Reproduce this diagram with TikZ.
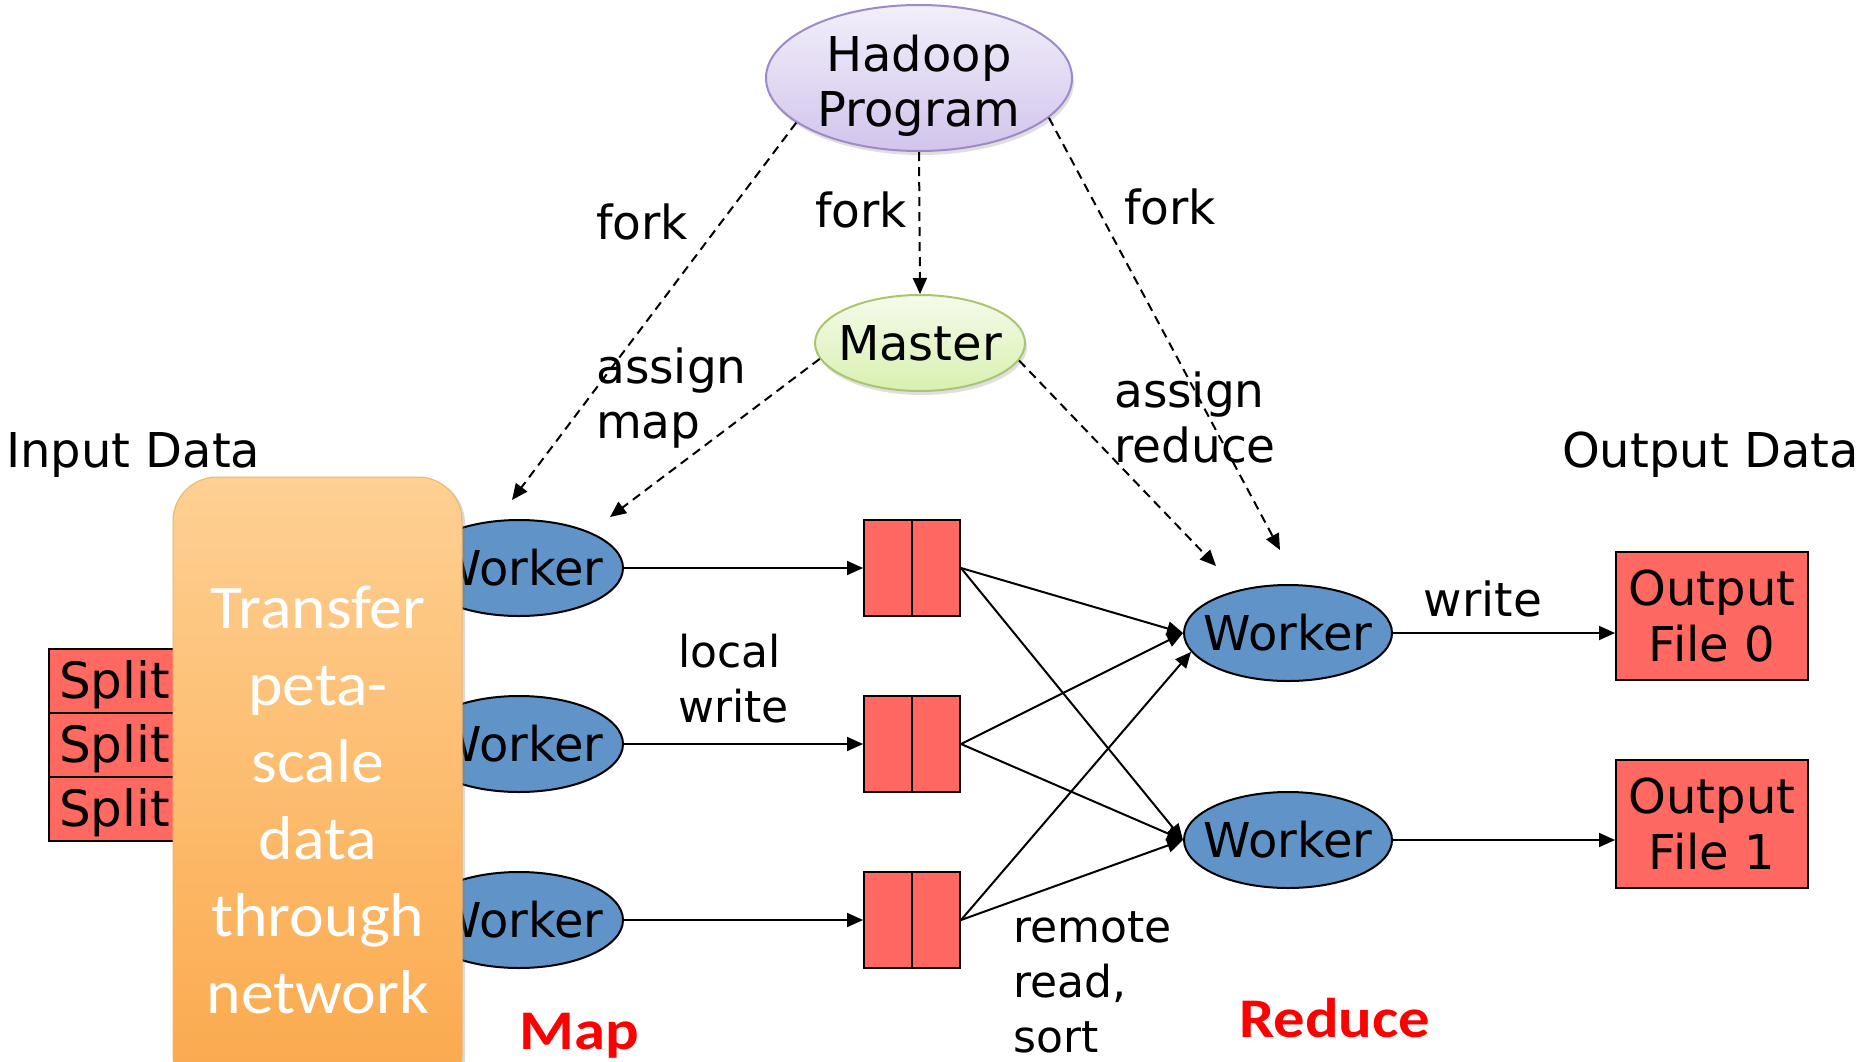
\documentclass[tikz,border=0pt]{standalone}
\usepackage{fontspec}
\setmainfont{DejaVu Sans}
\newfontfamily\calib{Carlito}[FakeStretch=1.06]
\newfontfamily\calibw{Carlito}[FakeStretch=1.12]
\usetikzlibrary{arrows.meta,shapes.geometric,shadows}
\newcommand\zw[1]{\makebox[0pt]{#1}}
\newcommand\fs[2]{\fontsize{#1bp}{#2bp}\selectfont}
\definecolor{wblue}{HTML}{6094C8}
\definecolor{salmon}{HTML}{FF6961}
\definecolor{hadtop}{HTML}{F2EFFA}
\definecolor{hadbot}{HTML}{D2C4EC}
\definecolor{hadline}{HTML}{9E8AC6}
\definecolor{mtop}{HTML}{F5FBEA}
\definecolor{mbot}{HTML}{D8F0B0}
\definecolor{mline}{HTML}{A9C66F}
\definecolor{otop}{HTML}{FED093}
\definecolor{obot}{HTML}{FBA84A}
\definecolor{oline}{HTML}{F2B465}
\begin{document}
\begin{tikzpicture}[x=1bp,y=1bp,
  conn/.style={line width=2bp,-{Triangle[length=16bp,width=14bp]}},
  dconn/.style={conn,dash pattern=on 9bp off 6bp},
  worker/.style={ellipse,draw,line width=2bp,fill=wblue,minimum width=208bp,minimum height=96bp,inner sep=0,font=\fs{48}{56}},
  redbox/.style={rectangle,draw,line width=2bp,fill=salmon,inner sep=0},
  buf/.style={redbox,minimum width=96bp,minimum height=96bp},
  outbox/.style={redbox,minimum width=192bp,minimum height=128bp,align=center,font=\fs{48}{56}},
  splitbox/.style={redbox,minimum width=152bp,minimum height=64bp,anchor=north west},
  lbl/.style={inner sep=0,align=left,font=\fs{47}{55}},
  small/.style={inner sep=0,align=left,font=\fs{44}{55}},
  bigred/.style={inner sep=0,text=red,font=\calibw\bfseries\fs{56}{60}}
]
\useasboundingbox (0,0) rectangle (1876,-1061);
\clip (0,0) rectangle (1876,-1061);

% top ellipses
\node[ellipse,draw=hadline,line width=2bp,top color=hadtop,bottom color=hadbot,
  minimum width=306bp,minimum height=146bp,inner sep=0,
  drop shadow={opacity=0.25,shadow xshift=2bp,shadow yshift=-4bp}] (hadoop) at (919,-78) {};
\node[inner sep=0,align=center,font=\fs{48}{55}] (hadooptxt) at (919,-86) {Hadoop\\Program};
\node[ellipse,draw=mline,line width=2bp,top color=mtop,bottom color=mbot,
  minimum width=210bp,minimum height=96bp,inner sep=0,font=\fs{48}{56},
  drop shadow={opacity=0.25,shadow xshift=2bp,shadow yshift=-4bp}] (master) at (920,-343) {\zw{Master}};

% splits
\node[splitbox] (s1) at (48,-648) {};
\node[splitbox] (s2) at (48,-712) {};
\node[splitbox] (s3) at (48,-776) {};
\node[inner sep=0,anchor=base west,font=\fs{50}{56}] (s1t) at (59,-698) {Split};
\node[inner sep=0,anchor=base west,font=\fs{50}{56}] (s2t) at (59,-762) {Split};
\node[inner sep=0,anchor=base west,font=\fs{50}{56}] (s3t) at (59,-826) {Split};

% map workers
\node[worker] (w1) at (519,-568) {\zw{Worker}};
\node[worker] (w2) at (519,-744) {\zw{Worker}};
\node[worker] (w3) at (519,-920) {\zw{Worker}};

% orange transfer box
\path[draw=oline,line width=1bp,top color=otop,bottom color=obot,rounded corners=44bp,
  drop shadow={opacity=0.3,shadow xshift=3bp,shadow yshift=-2bp}]
  (173,-477) rectangle (462,-1100);
\node[anchor=north,align=center,text=white,inner sep=0,font=\calib\fs{62}{77}] (transfer) at (318,-586)
  {Transfer\\peta-\\scale\\data\\through\\network};

% buffers
\node[buf] (b1) at (912,-568) {};
\node[buf] (b2) at (912,-744) {};
\node[buf] (b3) at (912,-920) {};
\foreach \b in {b1,b2,b3} \draw[line width=2bp] (\b.north) -- (\b.south);

% reduce workers
\node[worker] (r1) at (1288,-633) {\zw{Worker}};
\node[worker] (r2) at (1288,-840) {\zw{Worker}};

% outputs
\node[outbox] (o0) at (1712,-616) {Output\\File 0};
\node[outbox] (o1) at (1712,-824) {Output\\File 1};

% dashed fork / assign connectors
\coordinate (f1) at (512,-500);
\coordinate (a1) at (610,-517);
\coordinate (f3) at (1280,-550);
\coordinate (a3) at (1216,-566);
\draw[dconn] (hadoop.200) -- (f1);
\draw[dconn] (hadoop.south) -- (master.north);
\draw[dconn] (hadoop.343) -- (f3);
\draw[dconn] (master.189) -- (a1);
\draw[dconn] (master.350) -- (a3);

% solid connectors
\draw[conn] (w1.east) -- (b1.west);
\draw[conn] (w2.east) -- (b2.west);
\draw[conn] (w3.east) -- (b3.west);
\draw[conn] (b1.east) -- (r1.west);
\draw[conn] (b1.east) -- (r2.west);
\draw[conn] (b2.east) -- (r1.west);
\draw[conn] (b2.east) -- (r2.west);
\draw[conn] (b3.east) -- (r1.191);
\draw[conn] (b3.east) -- (r2.west);
\draw[conn] (r1.east) -- (r1.east -| o0.west);
\draw[conn] (r2.east) -- (r2.east -| o1.west);

% labels
\node[lbl,anchor=base] (fork1) at (642,-239) {fork};
\node[lbl,anchor=base] (fork2) at (861,-227) {fork};
\node[lbl,anchor=base] (fork3) at (1170,-224) {fork};
\node[lbl,anchor=north west] (amap) at (596,-348) {assign\\map};
\node[lbl,anchor=north west] (ared) at (1114,-372) {assign\\reduce};
\node[lbl,anchor=base west,font=\fs{48}{55}] (indata) at (6,-467) {Input Data};
\node[lbl,anchor=base west,font=\fs{48}{55}] (outdata) at (1562,-467) {Output Data};
\node[lbl,anchor=base] (wr) at (1483,-616) {write};
\node[small,anchor=north west] (lw) at (678,-634) {local\\write};
\node[small,anchor=north west] (rrs) at (1013,-911) {remote\\read,\\sort};
\node[bigred,anchor=base west] (map) at (519,-1049) {Map};
\node[bigred,anchor=base west] (red) at (1239,-1037) {Reduce};
\end{tikzpicture}
\end{document}
